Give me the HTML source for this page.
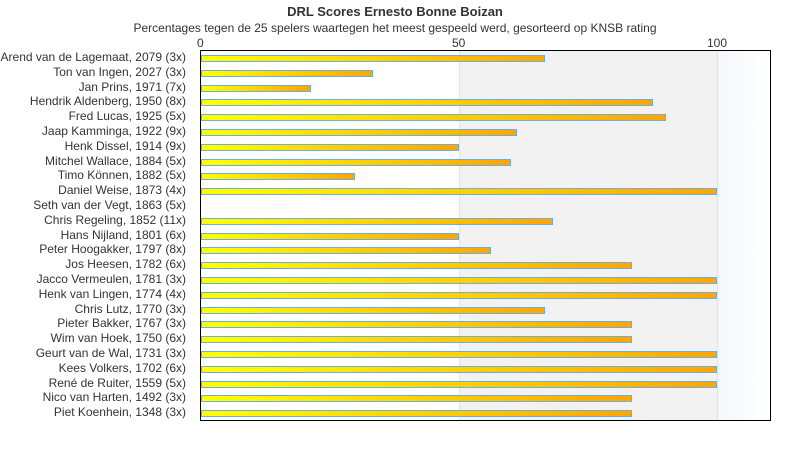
<!DOCTYPE html>
<html><head><style>
body{margin:0;width:790px;height:450px;background:#fff;font-family:"Liberation Sans",sans-serif;position:relative;overflow:hidden;color:#333}
.t{position:absolute;white-space:nowrap}
.l{position:absolute;right:604px;font-size:12px;white-space:nowrap;color:#333}
.b{position:absolute;left:201px;height:5px;border:1px solid #6aaee6;background:linear-gradient(to right,#ffff00,#ffa500)}
</style></head><body>
<div class="t" style="left:0;width:790px;text-align:center;top:4px;font-size:13px;font-weight:bold">DRL Scores Ernesto Bonne Boizan</div>
<div class="t" style="left:0;width:790px;text-align:center;top:21px;font-size:12px">Percentages tegen de 25 spelers waartegen het meest gespeeld werd, gesorteerd op KNSB rating</div>
<div class="t" style="left:197px;top:36px;font-size:12px">0</div>
<div class="t" style="left:452px;top:36px;font-size:12px">50</div>
<div class="t" style="left:707px;top:36px;font-size:12px">100</div>
<div style="position:absolute;left:459px;top:50px;width:259px;height:370px;background:#f2f2f2;border-left:1px solid #e4e4e4;border-right:1px solid #e4e4e4;box-sizing:border-box"></div>
<div style="position:absolute;left:718px;top:50px;width:52px;height:370px;background:linear-gradient(to right,#f4f7fa,#fff)"></div>
<div style="position:absolute;left:200px;top:50px;width:571px;height:371px;border:1px solid #000;box-sizing:border-box"></div>
<div id="c"></div>
<script>
var d=[["Arend van de Lagemaat, 2079 (3x)",545],["Ton van Ingen, 2027 (3x)",373],["Jan Prins, 1971 (7x)",311],["Hendrik Aldenberg, 1950 (8x)",653],["Fred Lucas, 1925 (5x)",666],["Jaap Kamminga, 1922 (9x)",517],["Henk Dissel, 1914 (9x)",459],["Mitchel Wallace, 1884 (5x)",511],["Timo Können, 1882 (5x)",355],["Daniel Weise, 1873 (4x)",717],["Seth van der Vegt, 1863 (5x)",0],["Chris Regeling, 1852 (11x)",553],["Hans Nijland, 1801 (6x)",459],["Peter Hoogakker, 1797 (8x)",491],["Jos Heesen, 1782 (6x)",632],["Jacco Vermeulen, 1781 (3x)",717],["Henk van Lingen, 1774 (4x)",717],["Chris Lutz, 1770 (3x)",545],["Pieter Bakker, 1767 (3x)",632],["Wim van Hoek, 1750 (6x)",632],["Geurt van de Wal, 1731 (3x)",717],["Kees Volkers, 1702 (6x)",717],["René de Ruiter, 1559 (5x)",717],["Nico van Harten, 1492 (3x)",632],["Piet Koenhein, 1348 (3x)",632]];
var h="";d.forEach(function(r,i){var y=55+14.8*i;h+='<div class="l" style="top:'+(y-5)+'px">'+r[0]+'</div>';if(r[1])h+='<div class="b" style="top:'+y+'px;width:'+(r[1]-203)+'px"></div>';});
document.getElementById("c").innerHTML=h;
</script>
</body></html>
